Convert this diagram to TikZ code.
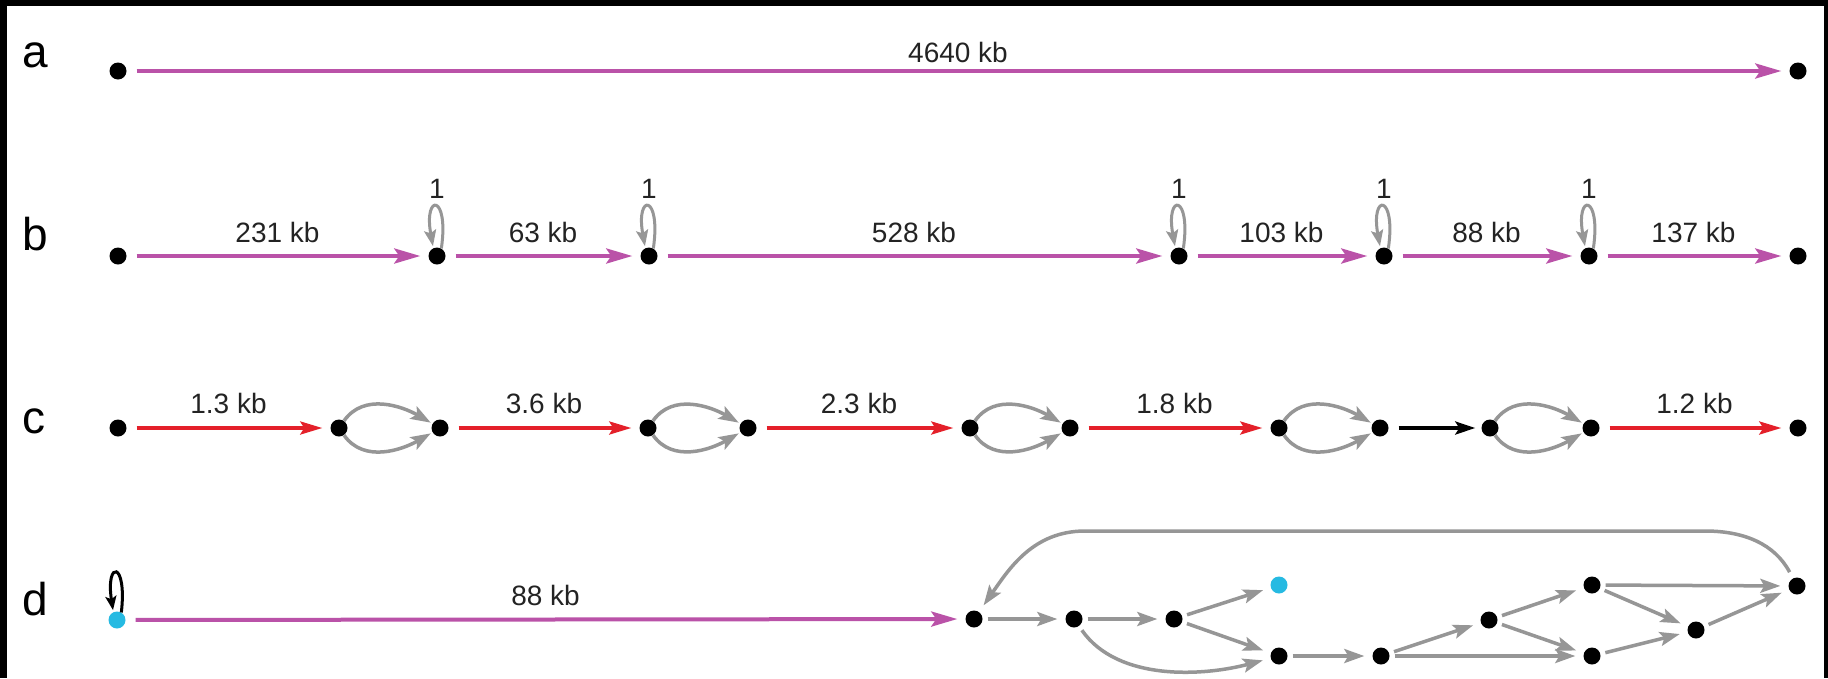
\documentclass[tikz,border=0pt]{standalone}
\usepackage{fontspec}
\setmainfont{Liberation Sans}
\usetikzlibrary{arrows.meta}
\definecolor{kbpurple}{RGB}{186,82,168}
\definecolor{kbred}{RGB}{228,32,42}
\definecolor{kbgray}{RGB}{150,150,150}
\definecolor{kbcyan}{RGB}{38,186,226}
\definecolor{kbtext}{RGB}{35,35,35}

\begin{document}
\begin{tikzpicture}[x=1pt,y=1pt,
  dot/.style={circle,fill=black,inner sep=0pt,minimum size=17pt},
  cdot/.style={dot,fill=kbcyan},
  longarc/.style={draw=kbpurple,line width=4pt,
    -{Stealth[length=26pt,width=15pt,inset=5pt]},shorten <=10pt,shorten >=8pt},
  redarc/.style={draw=kbred,line width=3.5pt,
    -{Stealth[length=22pt,width=13pt,inset=4pt]},shorten <=10pt,shorten >=8pt},
  blackarc/.style={draw=black,line width=3.5pt,
    -{Stealth[length=20pt,width=13pt,inset=4pt]},shorten <=10pt,shorten >=6pt},
  grayarc/.style={draw=kbgray,line width=3.5pt,
    -{Stealth[length=20pt,width=14pt,inset=4pt]},shorten <=5pt,shorten >=8pt},
  bubble/.style={draw=kbgray,line width=3.5pt,
    -{Stealth[length=20pt,width=14pt,inset=4pt]},shorten <=0pt,shorten >=2pt},
  grayloop/.style={draw=kbgray,line width=3pt,
    -{Stealth[length=16pt,width=12pt,inset=3pt]},shorten >=2pt},
  blackloop/.style={draw=black,line width=3pt,
    -{Stealth[length=14pt,width=11pt,inset=3pt]},shorten >=2pt},
  kblabel/.style={font=\fontsize{28}{32}\selectfont,text=kbtext,anchor=base,
    midway,yshift=#1},
  kblabel/.default=14pt,
  onelabel/.style={font=\fontsize{28}{32}\selectfont,text=kbtext,anchor=base,
    yshift=58pt},
  rowlabel/.style={font=\fontsize{46}{50}\selectfont,anchor=base west,inner sep=0pt},
]
% page and frame
\fill[white] (0,0) rectangle (1828,-678);
\useasboundingbox (0,0) rectangle (1828,-678);
\fill[black] (0,0) rectangle (7,-678);
\fill[black] (0,0) rectangle (1828,-6);
\fill[black] (1824,0) rectangle (1828,-678);

% row letters
\node[rowlabel] (la) at (22,-67) {a};
\node[rowlabel] (lb) at (22,-250) {b};
\node[rowlabel] (lc) at (22,-433) {c};
\node[rowlabel] (ld) at (22,-615) {d};

% ---- a: single contig
\node[dot] (a0) at (118,-71) {};
\node[dot] (a1) at (1798,-71) {};
\draw[longarc] (a0) -- node[kblabel=9pt] {4640 kb} (a1);

% ---- b: contigs joined by single-base repeats
\foreach \i/\x in {0/118,1/437,2/649,3/1179,4/1384,5/1589,6/1798}
  \node[dot] (b\i) at (\x,-256) {};
\draw[longarc] (b0) -- node[kblabel] {231 kb} (b1);
\draw[longarc] (b1) -- node[kblabel] {63 kb} (b2);
\draw[longarc] (b2) -- node[kblabel] {528 kb} (b3);
\draw[longarc] (b3) -- node[kblabel] {103 kb} (b4);
\draw[longarc] (b4) -- node[kblabel] {88 kb} (b5);
\draw[longarc] (b5) -- node[kblabel] {137 kb} (b6);
\foreach \i in {1,...,5}{
  \draw[grayloop] (b\i.60) .. controls +(8,55) and +(-10,55) .. (b\i.115);
  \node[onelabel] (one\i) at (b\i) {1};
}

% ---- c: bubbles between red contigs
\foreach \i/\x in {0/118,1/339,2/440,3/648,4/748,5/970,6/1070,7/1279,8/1380,9/1490,10/1591,11/1798}
  \node[dot] (c\i) at (\x,-428) {};
\draw[redarc] (c0) -- node[kblabel=15pt] {1.3 kb} (c1);
\draw[redarc] (c2) -- node[kblabel=15pt] {3.6 kb} (c3);
\draw[redarc] (c4) -- node[kblabel=15pt] {2.3 kb} (c5);
\draw[redarc] (c6) -- node[kblabel=15pt] {1.8 kb} (c7);
\draw[blackarc] (c8) -- (c9);
\draw[redarc] (c10) -- node[kblabel=15pt] {1.2 kb} (c11);
\foreach \l/\r in {c1/c2,c3/c4,c5/c6,c7/c8,c9/c10}{
  \draw[bubble] (\l) to[out=55,in=150] (\r);
  \draw[bubble] (\l) to[out=-55,in=-150] (\r);
}

% ---- d: tangle
\node[cdot] (d0) at (117,-620) {};
\draw[blackloop] (d0.60) .. controls +(6,52) and +(-8,52) .. (d0.115);
\node[dot] (d1) at (974,-619) {};
\node[dot] (d2) at (1074,-619) {};
\node[dot] (d3) at (1174,-619) {};
\node[cdot] (dc) at (1279,-585) {};
\node[dot] (d4) at (1279,-656) {};
\node[dot] (d5) at (1381,-656) {};
\node[dot] (d6) at (1489,-620) {};
\node[dot] (d7) at (1592,-585) {};
\node[dot] (d8) at (1592,-656) {};
\node[dot] (d9) at (1696,-630) {};
\node[dot] (d10) at (1797,-586) {};
\draw[longarc] (d0) -- node[kblabel] {88 kb} (d1);
\draw[grayarc] (d1) -- (d2);
\draw[grayarc] (d2) -- (d3);
\draw[grayarc] (d3) -- (dc);
\draw[grayarc] (d3) -- (d4);
\draw[grayarc] (d2) to[out=-55,in=195,looseness=0.9] (d4);
\draw[grayarc] (d4) -- (d5);
\draw[grayarc] (d5) -- (d6);
\draw[grayarc] (d5) -- (d8);
\draw[grayarc] (d6) -- (d7);
\draw[grayarc] (d6) -- (d8);
\draw[grayarc] (d7) -- (d10);
\draw[grayarc] (d7) -- (d9);
\draw[grayarc] (d8) -- (d9);
\draw[grayarc] (d9) -- (d10);
\coordinate (arcR) at (1705,-531);
\coordinate (arcL) at (1085,-531);
\draw[grayarc,shorten <=7pt] (d10) to[out=118,in=0] (arcR) -- (arcL) to[out=180,in=55] (d1);
\end{tikzpicture}
\end{document}
